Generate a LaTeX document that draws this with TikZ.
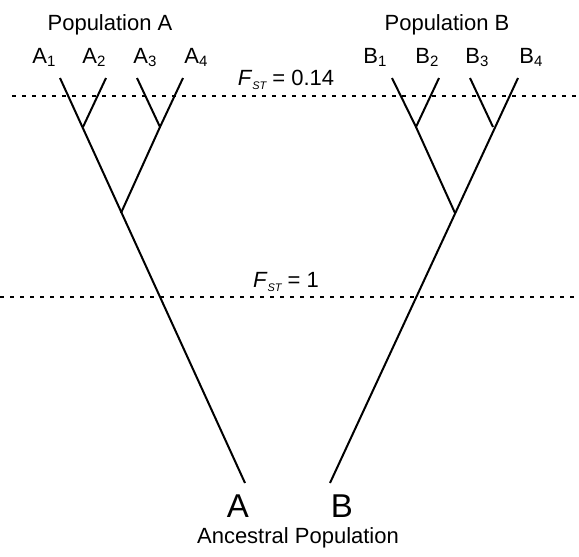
\documentclass[tikz,border=0pt]{standalone}
\usepackage{fontspec}
\setmainfont{Liberation Sans}
\usetikzlibrary{backgrounds}

\tikzset{
  branch/.style={line width=2pt},
  cutline/.style={line width=1.8pt, dash pattern=on 4pt off 6pt},
  lbl/.style={anchor=base, inner sep=0pt, font=\fontsize{22}{26}\selectfont},
  biglbl/.style={anchor=base, inner sep=0pt, font=\fontsize{33}{38}\selectfont}
}
\newcommand{\fst}{\textit{F}\raisebox{-0.35ex}{\fontsize{11}{12}\selectfont\itshape ST}}
\newcommand{\sub}[1]{\raisebox{-0.3ex}{\fontsize{15}{16}\selectfont #1}}

\begin{document}
\begin{tikzpicture}[x=1pt,y=-1pt]
\useasboundingbox (0,0) rectangle (579,557);

% levels
\coordinate (t0) at (12,96);
\coordinate (t1) at (579,96);
\coordinate (m0) at (0,297);
\coordinate (m1) at (579,297);
\draw[cutline] (t0)--(t1);
\draw[cutline] (m0)--(m1);
\node[lbl] (fsttop) at (286,85) {\fst\ = 0.14};
\node[lbl] (fstmid) at (286,287) {\fst\ = 1};

% tree A
\coordinate (a1) at (60,78);
\coordinate (a2) at (106,78);
\coordinate (a3) at (137,78);
\coordinate (a4) at (183,78);
\coordinate (a12) at (83,127);
\coordinate (a34) at (160,127);
\coordinate (aj) at (121,213);
\coordinate (ar) at (245,483);
\draw[branch] (a1)--(ar);
\draw[branch] (a2)--(a12);
\draw[branch] (a3)--(a34);
\draw[branch] (a4)--(a34)--(aj);

% tree B
\coordinate (b1) at (392,78);
\coordinate (b2) at (439,78);
\coordinate (b3) at (470,78);
\coordinate (b4) at (518,78);
\coordinate (b12) at (416,127);
\coordinate (b34) at (493,127);
\coordinate (bj) at (455,213);
\coordinate (br) at (330,483);
\draw[branch] (b4)--(br);
\draw[branch] (b3)--(b34);
\draw[branch] (b1)--(b12)--(bj);
\draw[branch] (b2)--(b12);

% labels
\node[lbl] (popa) at (110,30) {Population A};
\node[lbl] (popb) at (447,30) {Population B};
\node[lbl] (la1) at (44,63) {A\sub{1}};
\node[lbl] (la2) at (94,63) {A\sub{2}};
\node[lbl] (la3) at (145,63) {A\sub{3}};
\node[lbl] (la4) at (196,63) {A\sub{4}};
\node[lbl] (lb1) at (375,63) {B\sub{1}};
\node[lbl] (lb2) at (427,63) {B\sub{2}};
\node[lbl] (lb3) at (477,63) {B\sub{3}};
\node[lbl] (lb4) at (531,63) {B\sub{4}};
\node[biglbl] (roota) at (238,517) {A};
\node[biglbl] (rootb) at (342,517) {B};
\node[lbl] (anc) at (298,543) {Ancestral Population};

\end{tikzpicture}
\end{document}
